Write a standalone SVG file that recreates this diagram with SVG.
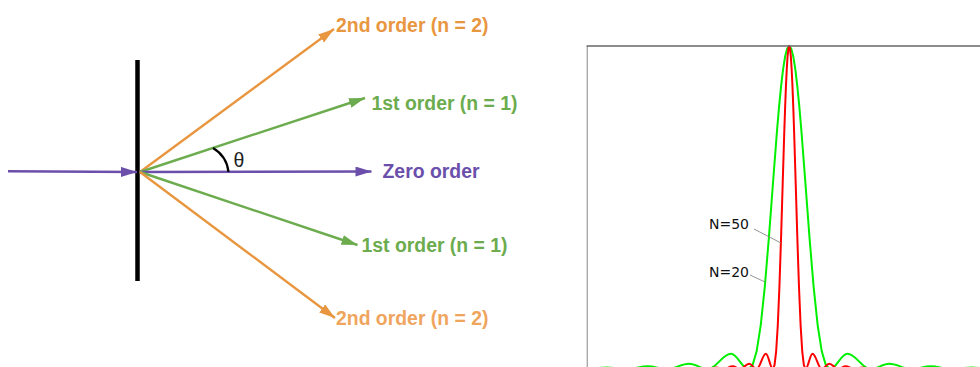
<svg xmlns="http://www.w3.org/2000/svg" width="980" height="367" viewBox="0 0 980 367">
<style>
.lbl{font-family:"Liberation Sans",Arial,sans-serif;font-weight:bold;font-size:19.4px}
.ray{fill:none;stroke-width:2.4}
.plab{font-family:"DejaVu Sans",sans-serif;font-size:14px;fill:#111}
.lead{stroke:#888;stroke-width:0.9;fill:none}
.curve{fill:none;stroke-width:2;stroke-linejoin:round}
</style>
<defs>
<marker id="ahP" markerUnits="userSpaceOnUse" markerWidth="16" markerHeight="10" refX="16" refY="5" orient="auto"><path d="M0,0 L16,5 L0,10 z" fill="#6B4FAB"/></marker>
<marker id="ahG" markerUnits="userSpaceOnUse" markerWidth="16" markerHeight="10" refX="16" refY="5" orient="auto"><path d="M0,0 L16,5 L0,10 z" fill="#6CAC4E"/></marker>
<marker id="ahO" markerUnits="userSpaceOnUse" markerWidth="16" markerHeight="10" refX="16" refY="5" orient="auto"><path d="M0,0 L16,5 L0,10 z" fill="#E8963F"/></marker>
<clipPath id="plotclip"><rect x="588" y="0" width="392" height="367"/></clipPath>
</defs>

<g id="grating">
<line x1="137.5" y1="60" x2="137.5" y2="281" stroke="#000" stroke-width="4.5"/>
</g>

<g id="connectors">
<line class="ray" x1="8" y1="171.3" x2="137" y2="172" stroke="#6B4FAB" marker-end="url(#ahP)"/>
<line class="ray" x1="140" y1="172" x2="334" y2="29" stroke="#E8963F" marker-end="url(#ahO)"/>
<line class="ray" x1="140" y1="172" x2="365" y2="98" stroke="#6CAC4E" marker-end="url(#ahG)"/>
<line class="ray" x1="140" y1="172" x2="371.5" y2="171.5" stroke="#6B4FAB" marker-end="url(#ahP)"/>
<line class="ray" x1="140" y1="172" x2="357.5" y2="245" stroke="#6CAC4E" marker-end="url(#ahG)"/>
<line class="ray" x1="140" y1="172" x2="335" y2="318" stroke="#E8963F" marker-end="url(#ahO)"/>
</g>

<g id="theta">
<path d="M213,148 A32,32 0 0 1 228.5,172" fill="none" stroke="#000" stroke-width="2.2"/>
<text x="233.5" y="166.5" font-family="Liberation Sans,Arial,sans-serif" font-size="19.5" fill="#222">θ</text>
</g>

<g id="order2-top"><text class="lbl" x="336" y="32" fill="#E8963F">2nd order (n = 2)</text></g>
<g id="order1-top"><text class="lbl" x="371.5" y="110" fill="#6CAC4E">1st order (n = 1)</text></g>
<g id="order0"><text class="lbl" x="382.5" y="178" fill="#6B4FAB">Zero order</text></g>
<g id="order1-bottom"><text class="lbl" x="361.5" y="252" fill="#6CAC4E">1st order (n = 1)</text></g>
<g id="order2-bottom"><text class="lbl" x="336" y="325" fill="#F0A55E">2nd order (n = 2)</text></g>

<g id="plot">
<g clip-path="url(#plotclip)">
<path id="curve-n20" class="curve" stroke="#00F000" d="M585.7,369 C593.57,369 599.10,367.38 606.97,367.38 C614.16,367.38 619.21,369 626.4,369 C634.37,369 639.96,366.31 647.93,366.31 C655.02,366.31 660.01,369 667.1,369 C675.25,369 680.97,363.67 689.12,363.67 C696.03,363.67 700.89,369 707.8,369 C716.38,369 722.41,353.75 730.99,353.75 C737.47,353.75 742.02,369 748.5,369 L752.57,365.1 L756.64,351.3 L760.71,325.3 L764.78,286.8 L768.85,238.1 L772.92,184.0 L776.99,131.0 L779.03,107.2 L781.06,86.3 L783.10,69.2 L785.13,56.5 L787.17,48.6 L789.2,46 L791.23,48.6 L793.27,56.5 L795.31,69.2 L797.34,86.3 L799.38,107.2 L801.41,131.0 L805.48,184.0 L809.55,238.1 L813.62,286.8 L817.69,325.3 L821.76,351.3 L825.83,365.1 L829.9,369 C836.38,369 840.93,353.75 847.41,353.75 C855.99,353.75 862.02,369 870.6,369 C877.51,369 882.37,363.67 889.28,363.67 C897.43,363.67 903.15,369 911.3,369 C918.39,369 923.38,366.31 930.47,366.31 C938.44,366.31 944.03,369 952.0,369 C959.19,369 964.24,367.38 971.43,367.38 C979.30,367.38 984.83,369 992.7,369"/>
<path id="curve-n50" class="curve" stroke="#FF0000" d="M707.7,369 C710.85,369 713.07,367.38 716.22,367.38 C719.10,367.38 721.12,369 724.0,369 C727.19,369 729.43,366.31 732.62,366.31 C735.46,366.31 737.46,369 740.3,369 C743.56,369 745.86,363.67 749.12,363.67 C751.89,363.67 753.83,369 756.6,369 C760.04,369 762.45,353.75 765.89,353.75 C768.48,353.75 770.32,369 772.9,369 L774.53,365.1 L776.16,351.3 L777.79,325.3 L779.42,286.8 L781.05,238.1 L782.68,184.0 L784.31,131.0 L785.13,107.2 L785.94,86.3 L786.76,69.2 L787.57,56.5 L788.39,48.6 L789.2,46 L790.02,48.6 L790.83,56.5 L791.65,69.2 L792.46,86.3 L793.28,107.2 L794.09,131.0 L795.72,184.0 L797.35,238.1 L798.98,286.8 L800.61,325.3 L802.24,351.3 L803.87,365.1 L805.5,369 C808.09,369 809.92,353.75 812.51,353.75 C815.95,353.75 818.36,369 821.8,369 C824.57,369 826.51,363.67 829.28,363.67 C832.54,363.67 834.84,369 838.1,369 C840.94,369 842.94,366.31 845.78,366.31 C848.97,366.31 851.21,369 854.4,369 C857.28,369 859.30,367.38 862.18,367.38 C865.33,367.38 867.55,369 870.7,369"/>
</g>
<line x1="587.3" y1="46" x2="587.3" y2="367" stroke="#aaa" stroke-width="1.4"/>
<line x1="586.6" y1="46" x2="980" y2="46" stroke="#666" stroke-width="1.4"/>
</g>

<g id="label-n50">
<text class="plab" x="709" y="229">N=50</text>
<line class="lead" x1="754" y1="229" x2="781" y2="243"/>
</g>
<g id="label-n20">
<text class="plab" x="709" y="277">N=20</text>
<line class="lead" x1="750" y1="275" x2="765" y2="282"/>
</g>
</svg>
